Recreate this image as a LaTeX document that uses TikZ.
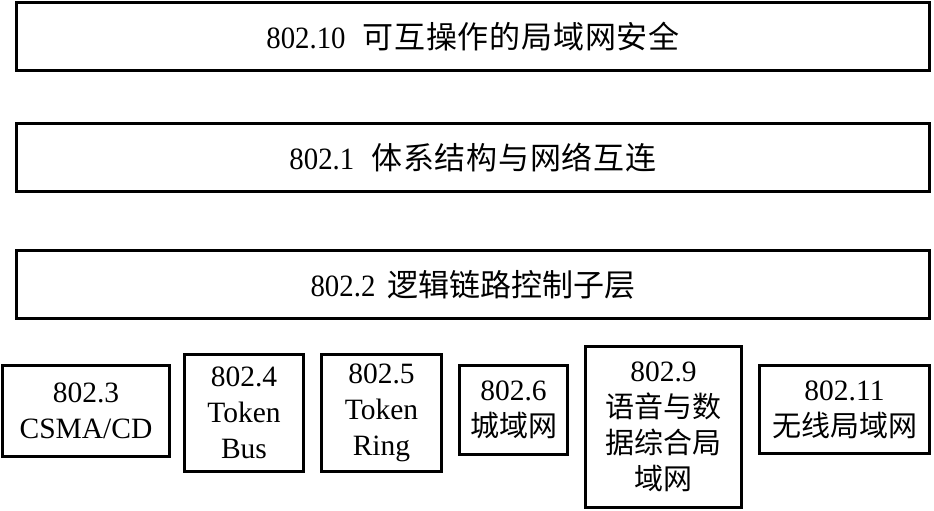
\documentclass[tikz,border=0pt]{standalone}
\usepackage{fontspec}
\setmainfont{Liberation Serif}
\newfontfamily\cjk{Noto Sans CJK SC}
\newfontfamily\cjkwide[LetterSpace=2.5]{Noto Sans CJK SC}
\newcommand{\LatBig}[1]{\scalebox{0.93}[1]{\fontsize{31}{34}\selectfont #1}}
\newcommand{\ZhBig}[1]{{\cjkwide\fontsize{31}{34}\selectfont #1}}
\newcommand{\ZhMid}[1]{{\cjk\fontsize{31}{34}\selectfont #1}}
\newcommand{\ZhSm}[1]{{\cjk\fontsize{29}{36}\selectfont #1}}
\begin{document}
\begin{tikzpicture}[x=1pt,y=-1pt,
  layerbox/.style={draw, line width=3pt, inner sep=0pt, minimum width=913pt, minimum height=68pt, align=center},
  stdbox/.style={draw, line width=3pt, inner sep=0pt, align=center, font=\fontsize{29.5}{36}\selectfont}]
\useasboundingbox (0,0) rectangle (934,511);
\fill[white] (0,0) rectangle (934,511);
\node[layerbox] (l10) at (473,37) {\LatBig{802.10}\hspace{17pt}\ZhBig{可互操作的局域网安全}};
\node[layerbox] (l1) at (473,157.5) {\LatBig{802.1}\hspace{17pt}\ZhBig{体系结构与网络互连}};
\node[layerbox] (l2) at (473,284.5) {\LatBig{802.2}\hspace{12pt}\ZhMid{逻辑链路控制子层}};
\node[stdbox, minimum width=167pt, minimum height=91pt] (b3) at (86,411) {802.3\\CSMA/CD};
\node[stdbox, minimum width=119pt, minimum height=117pt] (b4) at (244,413) {802.4\\Token\\Bus};
\node[stdbox, minimum width=120pt, minimum height=117pt] (b5) at (381.5,413) {802.5\\Token\\Ring};
\node[stdbox, minimum width=108pt, minimum height=89pt] (b6) at (513.5,410) {802.6\\\ZhSm{城域网}};
\node[stdbox, minimum width=156pt, minimum height=161pt] (b9) at (663.5,427) {802.9\\\ZhSm{语音与数}\\\ZhSm{据综合局}\\\ZhSm{域网}};
\node[stdbox, minimum width=170pt, minimum height=88pt] (b11) at (844.5,409.5) {802.11\\\ZhSm{无线局域网}};
\end{tikzpicture}
\end{document}
